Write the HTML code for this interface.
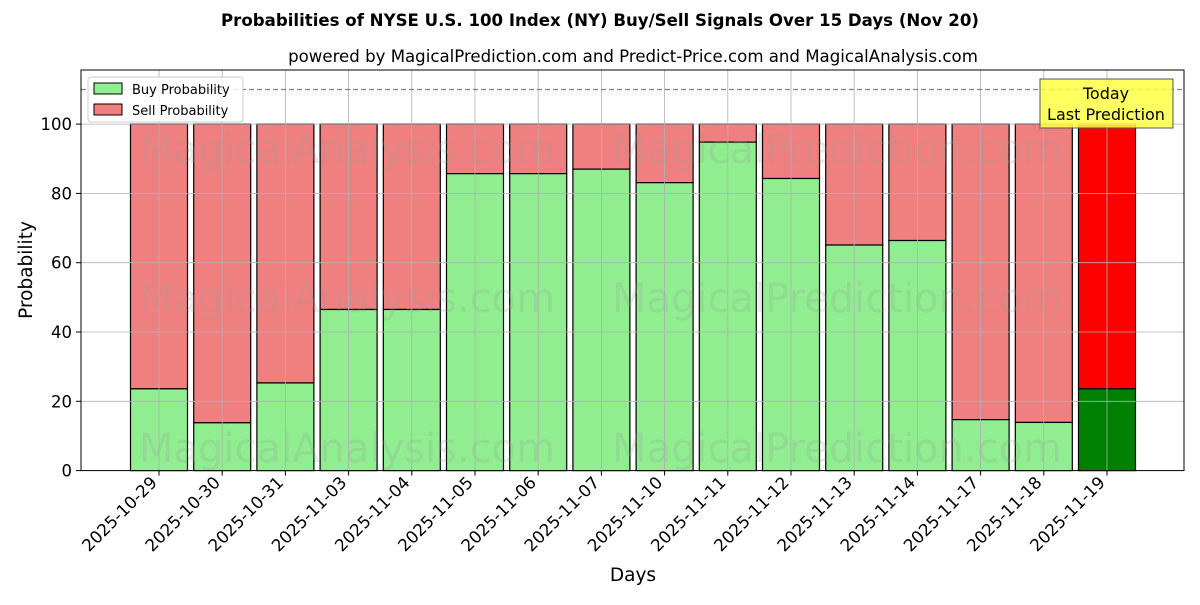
<!DOCTYPE html>
<html><head><meta charset="utf-8"><style>
body{margin:0;background:#fff}
svg text{font-family:"DejaVu Sans","Liberation Sans",sans-serif}
</style></head><body>
<svg width="1200" height="600" xmlns="http://www.w3.org/2000/svg">
<rect width="1200" height="600" fill="#fff"/>
<text x="600" y="26" text-anchor="middle" font-size="16.6" font-weight="bold">Probabilities of NYSE U.S. 100 Index (NY) Buy/Sell Signals Over 15 Days (Nov 20)</text>
<text x="633" y="62" text-anchor="middle" font-size="16.6">powered by MagicalPrediction.com and Predict-Price.com and MagicalAnalysis.com</text>
<g id="bars"></g>
<g id="wm" font-size="40" fill="#999" fill-opacity="0.22">
<text x="347" y="163" text-anchor="middle">MagicalAnalysis.com</text>
<text x="837" y="163" text-anchor="middle">MagicalPrediction.com</text>
<text x="347" y="312" text-anchor="middle">MagicalAnalysis.com</text>
<text x="837" y="312" text-anchor="middle">MagicalPrediction.com</text>
<text x="347" y="462" text-anchor="middle">MagicalAnalysis.com</text>
<text x="837" y="462" text-anchor="middle">MagicalPrediction.com</text>
</g>
<g id="grid" stroke="#b0b0b0" stroke-width="0.8"></g>
<line x1="81" x2="1184" y1="89.5" y2="89.5" stroke="#808080" stroke-width="1.2" stroke-dasharray="5,3"/>
<rect x="81" y="70" width="1103" height="400.6" fill="none" stroke="#000" stroke-width="1"/>
<g id="ticks"></g>
<text x="32" y="270" font-size="18.5" text-anchor="middle" transform="rotate(-90 32 270)">Probability</text>
<text x="633" y="581" font-size="18.5" text-anchor="middle">Days</text>
<g>
<rect x="88" y="77" width="155" height="45" rx="3" fill="#fff" fill-opacity="0.8" stroke="#ccc"/>
<rect x="94" y="83" width="28" height="11" fill="#90ee90" stroke="#000"/>
<text x="132" y="94" font-size="13">Buy Probability</text>
<rect x="94" y="104" width="28" height="11" fill="#f08080" stroke="#000"/>
<text x="132" y="115" font-size="13">Sell Probability</text>
</g>
<rect x="1040" y="79" width="133" height="49" fill="#ffff44" fill-opacity="0.85" stroke="#555"/>
<text x="1106" y="99" font-size="16" text-anchor="middle">Today</text>
<text x="1106" y="120" font-size="16" text-anchor="middle">Last Prediction</text>
</svg>
<script>
const ns="http://www.w3.org/2000/svg";
const buy=[23.6,13.8,25.3,46.5,46.5,85.7,85.7,87,83.1,94.8,84.3,65.1,66.4,14.7,13.9,23.6];
const dates=["2025-10-29","2025-10-30","2025-10-31","2025-11-03","2025-11-04","2025-11-05","2025-11-06","2025-11-07","2025-11-10","2025-11-11","2025-11-12","2025-11-13","2025-11-14","2025-11-17","2025-11-18","2025-11-19"];
const y0=470.6,s=3.465;
function el(t,a,p){const e=document.createElementNS(ns,t);for(const k in a)e.setAttribute(k,a[k]);p.appendChild(e);return e;}
const B=document.getElementById("bars"),G=document.getElementById("grid"),T=document.getElementById("ticks");
buy.forEach((b,i)=>{const cx=159+i*63.2,w=57,x=cx-w/2;const last=i==15;
el("rect",{x:x,y:y0-100*s,width:w,height:(100-b)*s,fill:last?"#ff0000":"#f08080",stroke:"#000","stroke-width":1.2},B);
el("rect",{x:x,y:y0-b*s,width:w,height:b*s,fill:last?"#008000":"#90ee90",stroke:"#000","stroke-width":1.2},B);
el("line",{x1:cx,x2:cx,y1:70,y2:y0},G);
el("line",{x1:cx,x2:cx,y1:y0,y2:y0+5,stroke:"#000"},T);
const tx=cx-1,ty=y0+13;
const t=el("text",{x:tx,y:ty,"font-size":16.8,"text-anchor":"end",transform:`rotate(-45 ${tx} ${ty})`},T);t.textContent=dates[i];});
for(let v=0;v<=100;v+=20){const y=y0-v*s;el("line",{x1:81,x2:1184,y1:y,y2:y},G);
el("line",{x1:76,x2:81,y1:y,y2:y,stroke:"#000"},T);
const t=el("text",{x:72,y:y+6,"font-size":16.5,"text-anchor":"end"},T);t.textContent=v;}
</script>
</body></html>
